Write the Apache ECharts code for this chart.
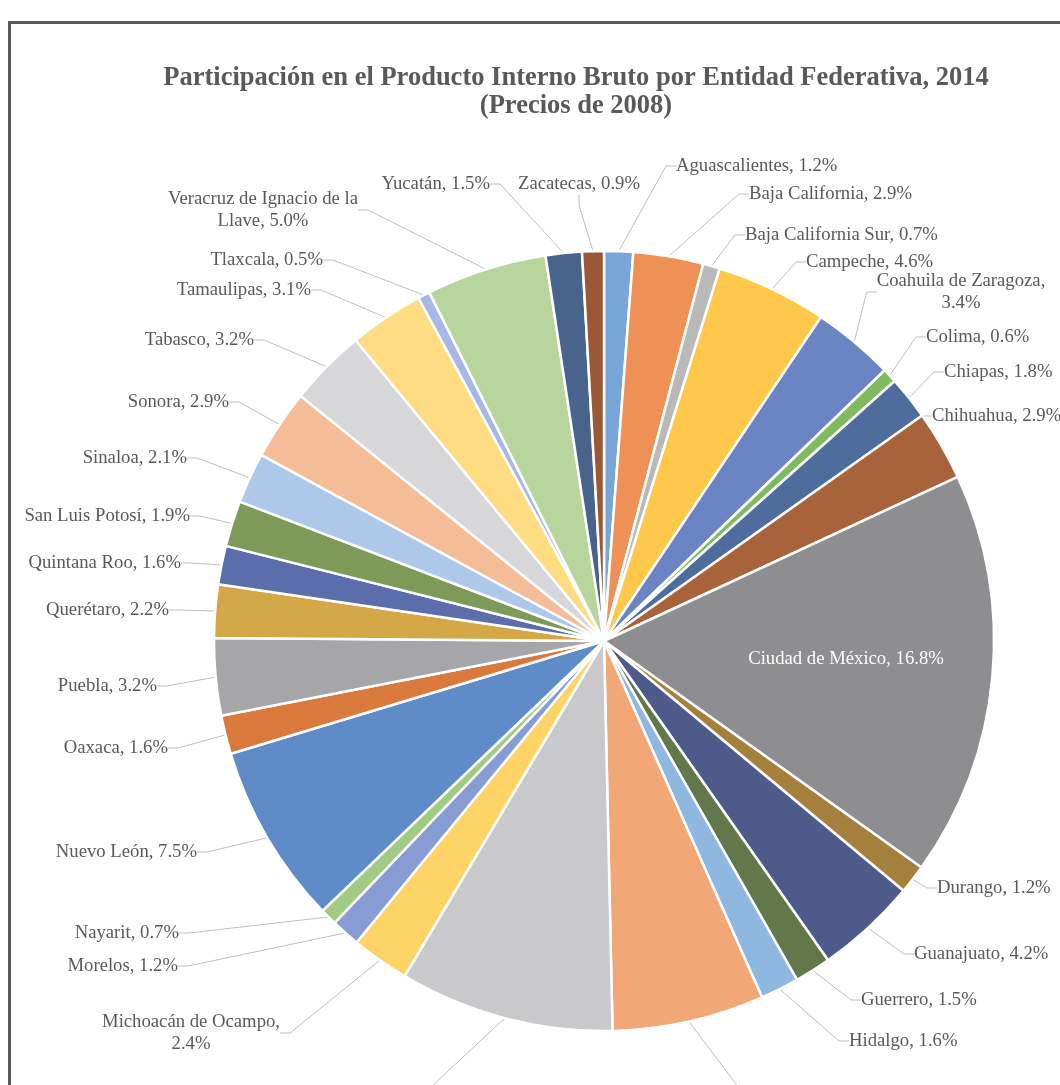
<!DOCTYPE html>
<html>
<head>
<meta charset="utf-8">
<script src="https://cdn.jsdelivr.net/npm/echarts@6/dist/echarts.min.js"></script>
<style>
  html, body { margin: 0; padding: 0; background: #ffffff; overflow: hidden; width: 1060px; height: 1085px; }
  #frame { position: absolute; left: 8px; top: 21px; width: 1120px; height: 1120px; border: 3px solid #595959; box-sizing: border-box; }
  #chart { position: absolute; left: 0; top: 0; width: 1140px; height: 1160px; }
</style>
</head>
<body>
<div id="frame"></div>
<div id="chart"></div>
<script>
// Entidades federativas, in the order they run clockwise from 12 o'clock
const states = [
  'Aguascalientes', 'Baja California', 'Baja California Sur', 'Campeche',
  'Coahuila de Zaragoza', 'Colima', 'Chiapas', 'Chihuahua', 'Ciudad de México',
  'Durango', 'Guanajuato', 'Guerrero', 'Hidalgo', 'Jalisco', 'México',
  'Michoacán de Ocampo', 'Morelos', 'Nayarit', 'Nuevo León', 'Oaxaca', 'Puebla',
  'Querétaro', 'Quintana Roo', 'San Luis Potosí', 'Sinaloa', 'Sonora', 'Tabasco',
  'Tamaulipas', 'Tlaxcala', 'Veracruz de Ignacio de la Llave', 'Yucatán', 'Zacatecas'
];

// Share of national GDP, 2014 (%)
const shares = [
  1.2, 2.9, 0.7, 4.6,
  3.4, 0.6, 1.8, 2.9, 16.8,
  1.2, 4.2, 1.5, 1.6, 6.3, 8.9,
  2.4, 1.2, 0.7, 7.5, 1.6, 3.2,
  2.2, 1.6, 1.9, 2.1, 2.9, 3.2,
  3.1, 0.5, 5.0, 1.5, 0.9
];

const sliceColors = [
  '#78a6d8', '#ef9156', '#b9b9b9', '#ffc84a',
  '#6a84c4', '#7fbb5e', '#4e6d9c', '#a9633a', '#8e8e91',
  '#a5803d', '#4e5a8a', '#62784a', '#8fb8e0', '#f2a776', '#c9c9cb',
  '#ffd466', '#869cd2', '#9fcb83', '#5f8cc8', '#d97a3c', '#a6a6a8',
  '#d4a847', '#5b6dab', '#7d9a58', '#adc8e8', '#f5bd97', '#d7d7d9',
  '#fedd82', '#a6b8e3', '#b7d59d', '#48638c', '#9a5934'
];

// Where each data label sits: [x, y, text alignment]
const labelSpots = [
  [676, 166, 'left'], [749, 194, 'left'], [745, 235, 'left'], [806, 262, 'left'],
  [961, 292, 'center'], [926, 337, 'left'], [944, 372, 'left'], [932, 416, 'left'], [846, 659, 'center'],
  [937, 888, 'left'], [914, 954, 'left'], [861, 1000, 'left'], [849, 1041, 'left'], [758, 1100, 'left'], [407, 1100, 'right'],
  [191, 1033, 'center'], [178, 966, 'right'], [179, 933, 'right'], [197, 852, 'right'], [168, 748, 'right'], [157, 686, 'right'],
  [169, 610, 'right'], [181, 563, 'right'], [190, 516, 'right'], [187, 458, 'right'], [229, 402, 'right'], [254, 340, 'right'],
  [311, 290, 'right'], [323, 260, 'right'], [263, 210, 'center'], [490, 184, 'right'], [579, 184, 'center']
];

// Long names are wrapped onto two lines
const wrappedNames = { 'Veracruz de Ignacio de la Llave': 'Veracruz de Ignacio de la\nLlave' };
const valueOnNewLine = ['Coahuila de Zaragoza', 'Michoacán de Ocampo'];

const insideLabel = 'Ciudad de México';

const pieData = states.map(function (name, i) {
  const item = { name: name, value: shares[i], itemStyle: { color: sliceColors[i] } };
  if (name === insideLabel) {
    item.label = { position: 'inside', color: '#ffffff' };
    item.labelLine = { show: false };
  }
  return item;
});

const chart = echarts.init(document.getElementById('chart'), null, { renderer: 'canvas' });

chart.setOption({
  animation: false,
  backgroundColor: 'transparent',
  title: {
    text: 'Participación en el Producto Interno Bruto por Entidad Federativa, 2014\n(Precios de 2008)',
    left: 571,
    top: 59,
    textAlign: 'center',
    textStyle: {
      fontFamily: 'Liberation Serif',
      fontWeight: 'bold',
      fontSize: 26.5,
      lineHeight: 28,
      color: '#595959'
    }
  },
  series: [{
    type: 'pie',
    center: [604, 641],
    radius: [0, 390],
    startAngle: 90,
    clockwise: true,
    avoidLabelOverlap: false,
    itemStyle: { borderColor: '#ffffff', borderWidth: 2.5 },
    label: {
      show: true,
      fontFamily: 'Liberation Serif',
      fontSize: 18.7,
      lineHeight: 22,
      color: '#595959',
      formatter: function (p) {
        const name = wrappedNames[p.name] || p.name;
        const sep = valueOnNewLine.indexOf(p.name) >= 0 ? ',\n' : ', ';
        return name + sep + p.value.toFixed(1) + '%';
      }
    },
    labelLine: {
      show: true,
      length: 15,
      length2: 10,
      minTurnAngle: 0,
      lineStyle: { color: '#bfbfbf', width: 1 }
    },
    labelLayout: function (p) {
      const spot = labelSpots[p.dataIndex];
      return { x: spot[0], y: spot[1], align: spot[2], verticalAlign: 'middle' };
    },
    emphasis: { disabled: true },
    data: pieData
  }]
});
</script>
</body>
</html>
